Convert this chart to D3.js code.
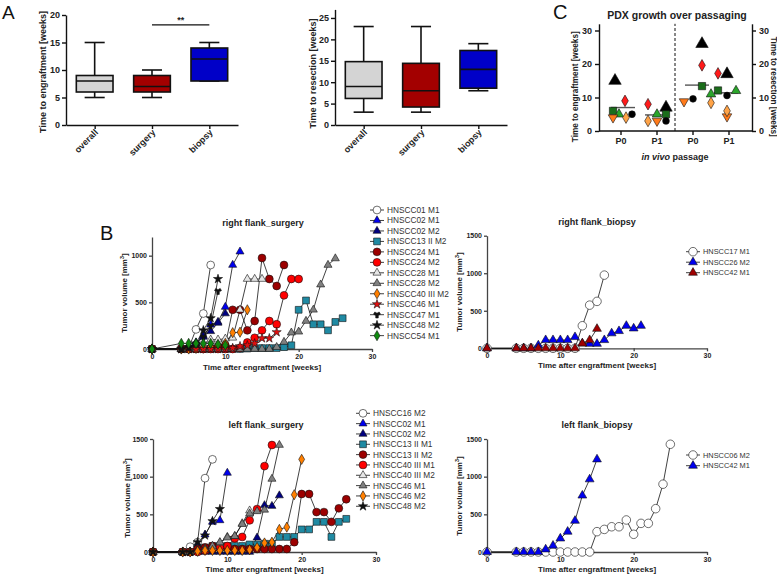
<!DOCTYPE html>
<html><head><meta charset="utf-8">
<script src="https://cdn.jsdelivr.net/npm/d3@7"></script>
<style>body{margin:0;background:#fff}svg{display:block}</style>
</head><body><svg id="c" width="777" height="574"></svg>
<script>
// ---------------- DATA ----------------
// Panel A: box plots [min, q1, median, q3, max]
const boxGroups = ["overall", "surgery", "biopsy"];
const engraftStats = [[5, 6, 8, 9, 15], [5, 6, 7, 9, 10], [8, 8, 12, 14, 15]];
const resectionStats = [[3, 6.2, 9, 14.8, 23], [3, 4.2, 8, 14.4, 23], [8, 8.6, 13, 17.4, 19]];
const engraftTicks = [0, 5, 10, 15, 20];
const resectionTicks = [0, 5, 10, 15, 20, 25];
const sigLevel = 18.2;

// Panel C: values per column [engraftment P0, engraftment P1, resection P0, resection P1]
const passageKeys = ["eP0", "eP1", "rP0", "rP1"];
const passageLabels = ["P0", "P1", "P0", "P1"];
const cBlackTriangle = [15, 7, 26, 17];
const cRedDiamond = [9, 8, 19.6, 17.2];
const cGreenSquare = [6, 5, 13.4, 12.1];
const cGreenTriangle = [5, 5, 11, 12];
const cOrangeDown = [4, 3, 8.8, 4.3];
const cBlackCircle = [5, 3, 9.6, 10.6];
const cOrangeDiamond = [4, 3, 8.4, 6];
const cMedians = [7, 4.8, 13.7, 11.4];
const cTicks = [0, 10, 20, 30];

// Panel B: [week, tumor volume mm3]
const rsNames = ["HNSCC01 M1","HNSCC02 M1","HNSCC02 M2","HNSCC13 II M2","HNSCC24 M1","HNSCC24 M2","HNSCC28 M1","HNSCC28 M2","HNSCC40 III M2","HNSCC46 M1","HNSCC47 M1","HNSCC48 M2","HNSCC54 M1"];
const rsValues = [
  [[0,0],[4,0],[5,10],[6,210],[7,380],[8,900]],
  [[0,0],[4,0],[5,0],[6,70],[7,130],[8,260],[9,290],[10,450],[11,900],[12,1043]],
  [[0,0],[4,0],[5,0],[6,60],[7,140],[8,190],[9,280],[10,380]],
  [[0,0],[4,0],[5,0],[6,0],[7,0],[8,0],[9,0],[10,0],[11,0],[12,0],[13,5],[14,10],[15,10],[16,10],[17,10],[18,20],[19,40],[20,420],[21,520],[22,265],[23,265],[24,200],[25,290],[26,330]],
  [[0,0],[4,0],[5,0],[6,0],[7,0],[8,10],[9,20],[10,40],[11,420],[12,420],[13,200],[14,300],[15,975],[16,750],[17,675],[18,900]],
  [[0,0],[4,0],[5,0],[6,0],[7,0],[8,0],[9,0],[10,0],[11,0],[12,10],[13,70],[14,120],[15,200],[16,300],[17,265],[18,575],[19,750],[20,750]],
  [[0,0],[4,0],[5,0],[6,20],[7,50],[8,100],[9,100],[10,110],[11,120],[12,420],[13,750],[14,750],[15,750]],
  [[0,0],[4,0],[5,0],[6,0],[7,0],[8,0],[9,0],[10,0],[11,0],[12,0],[13,0],[14,0],[15,0],[16,0],[17,20],[18,75],[19,175],[20,185],[21,300],[22,420],[23,690],[24,900],[25,970]],
  [[0,0],[4,0],[5,0],[6,10],[7,20],[8,30],[9,40],[10,60],[11,175],[12,180],[13,420]],
  [[0,0],[4,0],[5,0],[6,0],[7,0],[8,0],[9,0],[10,0],[11,10],[12,30],[13,40],[14,60],[15,115],[16,115],[17,180]],
  [[0,0],[4,0],[5,20],[6,50],[7,130],[8,250],[9,620]],
  [[0,0],[4,0],[5,20],[6,60],[7,200],[8,330],[9,750]],
  [[0,0],[4,60],[5,60],[6,60],[7,60],[8,60],[9,50],[10,40]]
];
const rbNames = ["HNSCC17 M1","HNSCC26 M2","HNSCC42 M1"];
const rbValues = [
  [[0,0],[4,0],[5,0],[6,0],[7,0],[8,0],[9,0],[10,0],[11,0],[12,0],[13,300],[14,575],[15,625],[16,975]],
  [[0,0],[4,0],[5,0],[6,0],[7,40],[8,110],[9,110],[10,110],[11,110],[12,150],[13,65],[14,60],[15,60],[16,110],[17,200],[18,230],[19,300],[20,265],[21,300]],
  [[0,0],[4,0],[5,0],[6,0],[7,0],[8,0],[9,0],[10,0],[11,0],[12,0],[13,65],[14,110],[15,260]]
];
const lsNames = ["HNSCC16 M2","HNSCC02 M1","HNSCC02 M2","HNSCC13 II M1","HNSCC13 II M2","HNSCC40 III M1","HNSCC40 III M2","HNSCC46 M1","HNSCC46 M2","HNSCC48 M2"];
const lsValues = [
  [[0,0],[4,0],[5,70],[6,130],[7,980],[8,1230]],
  [[0,0],[4,0],[5,0],[6,100],[7,230],[8,400],[9,420],[10,1050]],
  [[0,0],[4,0],[5,0],[6,0],[7,0],[8,0],[9,0],[10,0],[11,0],[12,0],[13,0],[14,190],[15,620],[16,610],[17,750]],
  [[0,0],[4,0],[5,0],[6,50],[7,60],[8,80],[9,80],[10,80],[11,80],[12,80],[13,100],[14,100],[15,110],[16,110],[17,200],[18,200],[19,200],[20,300],[21,300],[22,400],[23,400],[24,200],[25,400],[26,440]],
  [[0,0],[4,0],[5,0],[6,40],[7,60],[8,80],[9,80],[10,60],[11,40],[12,40],[13,40],[14,40],[15,40],[16,40],[17,40],[18,40],[19,130],[20,770],[21,770],[22,530],[23,530],[24,400],[25,580],[26,700]],
  [[0,0],[4,0],[5,0],[6,0],[7,20],[8,40],[9,60],[10,80],[11,180],[12,200],[13,420],[14,570],[15,1140],[16,1420]],
  [[0,0],[4,0],[5,0],[6,20],[7,40],[8,60],[9,120],[10,200],[11,210],[12,380],[13,550]],
  [[0,0],[4,0],[5,0],[6,20],[7,40],[8,80],[9,130],[10,190],[11,210],[12,370],[13,510],[14,540],[15,560],[16,970],[17,1420]],
  [[0,0],[4,0],[5,0],[6,10],[7,20],[8,20],[9,20],[10,20],[11,20],[12,20],[13,30],[14,60],[15,120],[16,130],[17,300],[18,330],[19,760],[20,1230]],
  [[0,0],[4,0],[5,0],[6,130],[7,220],[8,410],[9,570]]
];
const lbNames = ["HNSCC06 M2","HNSCC42 M1"];
const lbValues = [
  [[0,0],[4,0],[5,0],[6,0],[7,0],[8,0],[9,0],[10,0],[11,0],[12,0],[13,0],[14,0],[15,270],[16,300],[17,335],[18,335],[19,425],[20,235],[21,380],[22,380],[23,575],[24,900],[25,1430]],
  [[0,0],[4,0],[5,0],[6,0],[7,0],[8,35],[9,85],[10,180],[11,270],[12,415],[13,750],[14,965],[15,1230]]
];
const weekTicks = [0, 10, 20, 30];

// ---------------- STYLES ----------------
const FONT = "'Liberation Sans', Arial, Helvetica, sans-serif";
const boxFill = ["#d4d4d4", "#a30000", "#0000c8"];
const S = {
  open:  {shape: "circle", fill: "#ffffff"},
  blue:  {shape: "triangle", fill: "#0000ee"},
  navy:  {shape: "triangle", fill: "#000080"},
  teal:  {shape: "square", fill: "#1f8aa3"},
  dred:  {shape: "circle", fill: "#9c0000"},
  red:   {shape: "circle", fill: "#ff0000"},
  wtri:  {shape: "triangle", fill: "#e6e6e6"},
  gtri:  {shape: "triangle", fill: "#808080"},
  orng:  {shape: "diamond", fill: "#ff7f00"},
  rstar: {shape: "star", fill: "#e01010"},
  bstar: {shape: "star", fill: "#111111"},
  bstar2:{shape: "wye", fill: "#111111"},
  green: {shape: "diamond", fill: "#108a10"},
  drtri: {shape: "triangle", fill: "#a00000"}
};
const rsStyles = [S.open, S.blue, S.navy, S.teal, S.dred, S.red, S.wtri, S.gtri, S.orng, S.rstar, S.bstar2, S.bstar, S.green];
const rbStyles = [S.open, S.blue, S.drtri];
const lsStyles = [S.open, S.blue, S.navy, S.teal, S.dred, S.red, S.wtri, S.gtri, S.orng, S.bstar];
const lbStyles = [S.open, S.blue];

const symTypes = {circle: d3.symbolCircle, triangle: d3.symbolTriangle, square: d3.symbolSquare,
  diamond: d3.symbolDiamond, star: d3.symbolStar, wye: d3.symbolWye, triangleDown: d3.symbolTriangle};
const symSize = {circle: 48, triangle: 28, square: 46, diamond: 30, star: 26, wye: 22, triangleDown: 28};

const svg = d3.select("#c");
const fmt = d3.format("d");

function marker(g, x, y, st, scale = 1) {
  g.append("path")
    .attr("d", d3.symbol().type(symTypes[st.shape]).size(symSize[st.shape] * scale)())
    .attr("transform", `translate(${x},${y})` + (st.shape === "triangleDown" ? " rotate(180)" : ""))
    .attr("fill", st.fill).attr("stroke", "#111").attr("stroke-width", 0.6);
}
function text(g, x, y, s, o = {}) {
  return g.append("text").attr("x", x).attr("y", y).text(s)
    .attr("font-family", FONT).attr("font-size", o.size || 9)
    .attr("font-weight", o.weight || "bold").attr("fill", o.fill || "#222")
    .attr("text-anchor", o.anchor || "middle")
    .attr("transform", o.rot ? `rotate(${o.rot},${x},${y})` : null);
}
function styleAxis(g, color, w, fs) {
  g.select(".domain").attr("stroke", color).attr("stroke-width", w);
  g.selectAll(".tick line").attr("stroke", color).attr("stroke-width", w);
  g.selectAll(".tick text").attr("font-family", FONT).attr("font-size", fs)
    .attr("font-weight", "bold").attr("fill", "#222");
}

// ---------------- PANEL A ----------------
function boxPanel(stats, xr, yr, ymax, ticks, ylabel, ylabX) {
  const g = svg.append("g");
  const x = d3.scalePoint().domain(boxGroups).range(xr).padding(0.5);
  const y = d3.scaleLinear().domain([0, ymax]).range(yr);
  const bw = x.step() * 0.64, cw = x.step() * 0.35;
  stats.forEach((s, i) => {
    const cx = x(boxGroups[i]);
    const line = (x1, y1, x2, y2) => g.append("line").attr("x1", x1).attr("y1", y1).attr("x2", x2).attr("y2", y2)
      .attr("stroke", "#111").attr("stroke-width", 1.6);
    line(cx, y(s[4]), cx, y(s[3])); line(cx, y(s[1]), cx, y(s[0]));
    line(cx - cw / 2, y(s[4]), cx + cw / 2, y(s[4])); line(cx - cw / 2, y(s[0]), cx + cw / 2, y(s[0]));
    g.append("rect").attr("x", cx - bw / 2).attr("y", y(s[3])).attr("width", bw).attr("height", y(s[1]) - y(s[3]))
      .attr("fill", boxFill[i]).attr("stroke", "#111").attr("stroke-width", 1.6);
    line(cx - bw / 2, y(s[2]), cx + bw / 2, y(s[2]));
    text(g, cx + 4, yr[0] + 8, boxGroups[i], {anchor: "end", rot: -45, size: 9});
  });
  g.append("g").attr("transform", `translate(${xr[0]},0)`)
    .call(d3.axisLeft(y).tickValues(ticks).tickSize(4).tickPadding(2).tickSizeOuter(0))
    .call(a => styleAxis(a, "#111", 1.4, 9));
  g.append("g").attr("transform", `translate(0,${yr[0]})`)
    .call(d3.axisBottom(x).tickSize(4).tickFormat("").tickSizeOuter(0))
    .call(a => styleAxis(a, "#111", 1.4, 9));
  text(g, ylabX, (y(0) + y(ticks[ticks.length - 1])) / 2 + 2, ylabel, {rot: -90, size: 9});
  return {g, x, y};
}
const A1 = boxPanel(engraftStats, [66, 238], [125, 15], 20, engraftTicks, "Time to engraftment [weeks]", 46);
const A2 = boxPanel(resectionStats, [335, 507], [125, 9.4], 27, resectionTicks, "Time to resection [weeks]", 316);
A1.g.append("line").attr("x1", A1.x("surgery")).attr("x2", A1.x("biopsy"))
  .attr("y1", A1.y(sigLevel)).attr("y2", A1.y(sigLevel)).attr("stroke", "#111").attr("stroke-width", 1.4);
text(A1.g, (A1.x("surgery") + A1.x("biopsy")) / 2, A1.y(sigLevel) - 2, "**", {size: 9});
text(svg, 2, 19, "A", {anchor: "start", weight: "normal", size: 19, fill: "#111"});

// ---------------- PANEL C ----------------
(function () {
  const g = svg.append("g");
  const x = d3.scalePoint().domain(passageKeys).range([621, 729]);
  const y = d3.scaleLinear().domain([0, 32]).range([131, 23.8]);
  const cSeries = [
    {v: cBlackTriangle, st: {shape: "triangle", fill: "#000"}, sc: 2.4, j: [-6, 9, 9, -2]},
    {v: cRedDiamond, st: {shape: "diamond", fill: "#ff1a1a"}, sc: 1.3, j: [4, -9, 9, -11]},
    {v: cGreenSquare, st: {shape: "square", fill: "#1b6e1b"}, sc: 1.15, j: [-8, 9, 9, -11]},
    {v: cGreenTriangle, st: {shape: "triangle", fill: "#2aa52a"}, sc: 1.4, j: [-2, 0, 18, 7]},
    {v: cOrangeDown, st: {shape: "triangleDown", fill: "#ff7a1a"}, sc: 1.4, j: [-8, 0, -9, -2]},
    {v: cBlackCircle, st: {shape: "circle", fill: "#000"}, sc: 0.75, j: [11, 9, 0, -2]},
    {v: cOrangeDiamond, st: {shape: "diamond", fill: "#ffa347"}, sc: 1.3, j: [5, -9, 18, -2]}
  ];
  const medJ = [2, 0, 4, -3];
  cMedians.forEach((m, i) => {
    const cx = x(passageKeys[i]) + medJ[i];
    g.append("line").attr("x1", cx - 12).attr("x2", cx + 12).attr("y1", y(m)).attr("y2", y(m))
      .attr("stroke", "#555").attr("stroke-width", 1.4);
  });
  cSeries.forEach(s => s.v.forEach((v, i) => marker(g, x(passageKeys[i]) + s.j[i], y(v), s.st, s.sc)));
  g.append("g").attr("transform", "translate(599,0)")
    .call(d3.axisLeft(y).tickValues(cTicks).tickSize(4).tickPadding(3).tickSizeOuter(0))
    .call(a => styleAxis(a, "#111", 1.4, 9));
  g.append("g").attr("transform", "translate(752,0)")
    .call(d3.axisRight(y).tickValues(cTicks).tickSize(4).tickPadding(3).tickSizeOuter(0))
    .call(a => styleAxis(a, "#111", 1.4, 9));
  g.append("line").attr("x1", 599).attr("x2", 752).attr("y1", y(0)).attr("y2", y(0)).attr("stroke", "#111").attr("stroke-width", 1.4);
  passageKeys.forEach((k, i) => {
    g.append("line").attr("x1", x(k)).attr("x2", x(k)).attr("y1", y(0)).attr("y2", y(0) + 4).attr("stroke", "#111").attr("stroke-width", 1.4);
    text(g, x(k), y(0) + 13, passageLabels[i], {size: 9});
  });
  const mid = (x("eP1") + x("rP0")) / 2;
  g.append("line").attr("x1", mid).attr("x2", mid).attr("y1", y(0)).attr("y2", y(32))
    .attr("stroke", "#111").attr("stroke-width", 1).attr("stroke-dasharray", "3,2");
  text(g, 578, (y(0) + y(30)) / 2 + 6, "Time to engraftment [weeks]", {rot: -90, size: 8.2});
  text(g, 771, (y(0) + y(30)) / 2 + 6, "Time to resection [weeks]", {rot: 90, size: 8.2});
  text(g, 677, 19, "PDX growth over passaging", {size: 10.5});
  const t = text(g, 675, 160, "", {size: 9});
  t.append("tspan").attr("font-style", "italic").text("in vivo");
  t.append("tspan").text(" passage");
  text(svg, 553, 19, "C", {anchor: "start", weight: "normal", size: 20, fill: "#111"});
})();

// ---------------- PANEL B ----------------
function growthPanel(o) {
  const g = svg.append("g");
  const x = d3.scaleLinear().domain([0, 30]).range(o.xr);
  const y = d3.scaleLinear().domain([0, o.ymax]).range(o.yr);
  const line = d3.line().x(d => x(d[0])).y(d => y(d[1]));
  g.append("g").attr("transform", `translate(${o.xr[0]},0)`)
    .call(d3.axisLeft(y).tickValues(o.yticks).tickFormat(fmt).tickSize(3).tickPadding(2).tickSizeOuter(0))
    .call(a => styleAxis(a, "#444", 1.3, 7));
  g.append("g").attr("transform", `translate(0,${o.yr[0]})`)
    .call(d3.axisBottom(x).tickValues(weekTicks).tickFormat(fmt).tickSize(3).tickPadding(2).tickSizeOuter(0))
    .call(a => styleAxis(a, "#444", 1.3, 7));
  o.values.forEach(vals => {
    g.append("path").attr("d", line(vals)).attr("fill", "none").attr("stroke", "#111").attr("stroke-width", 0.8);
  });
  o.values.forEach((vals, i) => vals.forEach(d => marker(g, x(d[0]), y(d[1]), o.styles[i], o.ms)));
  text(g, o.titleX, o.titleY, o.title, {size: 9});
  text(g, o.ylabX, o.ylabY, "", {rot: -90, size: 8}).call(t => {
    t.append("tspan").text("Tumor volume [mm");
    t.append("tspan").attr("font-size", 5.5).attr("dy", -3).text("3");
    t.append("tspan").attr("dy", 3).text("]");
  });
  text(g, (o.xr[0] + o.xr[1]) / 2, o.xlabY, "Time after engraftment [weeks]", {size: 8});
  o.names.forEach((n, i) => {
    const ly = o.legY + i * o.legStep;
    g.append("line").attr("x1", o.legX - 7).attr("x2", o.legX + 7).attr("y1", ly).attr("y2", ly)
      .attr("stroke", "#111").attr("stroke-width", 0.8);
    marker(g, o.legX, ly, o.styles[i], o.ms);
    text(g, o.legX + 10, ly + o.legFont * 0.35, n, {anchor: "start", weight: "normal", size: o.legFont, fill: "#333"});
  });
}
growthPanel({xr: [152, 372], yr: [349, 237], ymax: 1200, yticks: [0, 500, 1000],
  values: rsValues, styles: rsStyles, names: rsNames, ms: 1,
  title: "right flank_surgery", titleX: 263, titleY: 226, ylabX: 127, ylabY: 293, xlabY: 370,
  legX: 377, legY: 210, legStep: 10.47, legFont: 8.3});
growthPanel({xr: [487, 707], yr: [348.3, 235.7], ymax: 1500, yticks: [0, 500, 1000, 1500],
  values: rbValues, styles: rbStyles, names: rbNames, ms: 1.2,
  title: "right flank_biopsy", titleX: 597, titleY: 225, ylabX: 462, ylabY: 292, xlabY: 368,
  legX: 693, legY: 251.7, legStep: 10.5, legFont: 7.4});
growthPanel({xr: [153, 376], yr: [552, 439], ymax: 1500, yticks: [0, 500, 1000, 1500],
  values: lsValues, styles: lsStyles, names: lsNames, ms: 1,
  title: "left flank_surgery", titleX: 266, titleY: 428, ylabX: 130, ylabY: 498, xlabY: 572,
  legX: 363, legY: 413.3, legStep: 10.33, legFont: 8.3});
growthPanel({xr: [487, 707], yr: [552, 439], ymax: 1500, yticks: [0, 500, 1000, 1500],
  values: lbValues, styles: lbStyles, names: lbNames, ms: 1.2,
  title: "left flank_biopsy", titleX: 597, titleY: 428, ylabX: 462, ylabY: 496, xlabY: 572,
  legX: 693, legY: 455, legStep: 10.7, legFont: 7.4});
text(svg, 100, 240, "B", {anchor: "start", weight: "normal", size: 20, fill: "#111"});
</script></body></html>
